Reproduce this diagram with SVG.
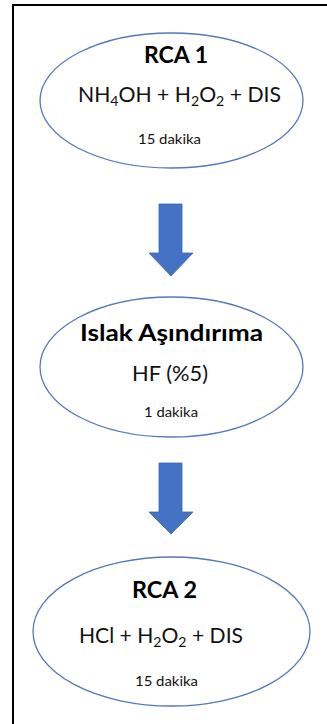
<svg xmlns="http://www.w3.org/2000/svg" width="327" height="724" viewBox="0 0 327 724">
<style>
.node ellipse{fill:#ffffff;stroke:#5577bb;stroke-width:1.3}
.title{font-family:Lato,"Open Sans",sans-serif;font-weight:bold;font-size:22px;fill:#000}
.formula{font-family:Lato,"Open Sans",sans-serif;font-size:21px;fill:#111}
.sub{font-size:14px}
.time{font-family:Lato,"Open Sans",sans-serif;font-size:14px;fill:#111}
.arrow{fill:#4472c4;stroke:#3c66b3;stroke-width:0.8}
</style>
<rect x="0" y="0" width="327" height="724" fill="#ffffff"/>
<rect x="13" y="5" width="330" height="740" fill="none" stroke="#000" stroke-width="2"/>
<g id="connectors">
<polygon class="arrow" points="159,204 182,204 182,253 193,253 171,276 149,253 159,253"/>
<polygon class="arrow" points="159,463 182,463 182,512 193,512 171,534 149,512 159,512"/>
</g>
<g id="rca1" class="node">
<ellipse cx="171.5" cy="100.5" rx="131.5" ry="67.5"/>
<text class="title" x="144" y="63" textLength="64" lengthAdjust="spacingAndGlyphs">RCA 1</text>
<text class="formula" x="78" y="102" textLength="203" lengthAdjust="spacingAndGlyphs">NH<tspan class="sub" dy="4">4</tspan><tspan dy="-4">OH + H</tspan><tspan class="sub" dy="4">2</tspan><tspan dy="-4">O</tspan><tspan class="sub" dy="4">2</tspan><tspan dy="-4"> + DIS</tspan></text>
<text class="time" x="138" y="144" textLength="63" lengthAdjust="spacingAndGlyphs">15 dakika</text>
</g>
<g id="islak" class="node">
<ellipse cx="171.5" cy="367" rx="131.5" ry="70"/>
<text class="title" x="80" y="341" font-size="23" textLength="183" lengthAdjust="spacingAndGlyphs">Islak Aşındırıma</text>
<text class="formula" x="132" y="381" textLength="76" lengthAdjust="spacingAndGlyphs">HF (%5)</text>
<text class="time" x="144" y="417" textLength="54" lengthAdjust="spacingAndGlyphs">1 dakika</text>
</g>
<g id="rca2" class="node">
<ellipse cx="171.5" cy="631.5" rx="138.5" ry="74.5"/>
<text class="title" x="132" y="598" textLength="65" lengthAdjust="spacingAndGlyphs">RCA 2</text>
<text class="formula" x="79" y="643" textLength="164" lengthAdjust="spacingAndGlyphs">HCl + H<tspan class="sub" dy="4">2</tspan><tspan dy="-4">O</tspan><tspan class="sub" dy="4">2</tspan><tspan dy="-4"> + DIS</tspan></text>
<text class="time" x="135" y="686" textLength="63" lengthAdjust="spacingAndGlyphs">15 dakika</text>
</g>
</svg>
